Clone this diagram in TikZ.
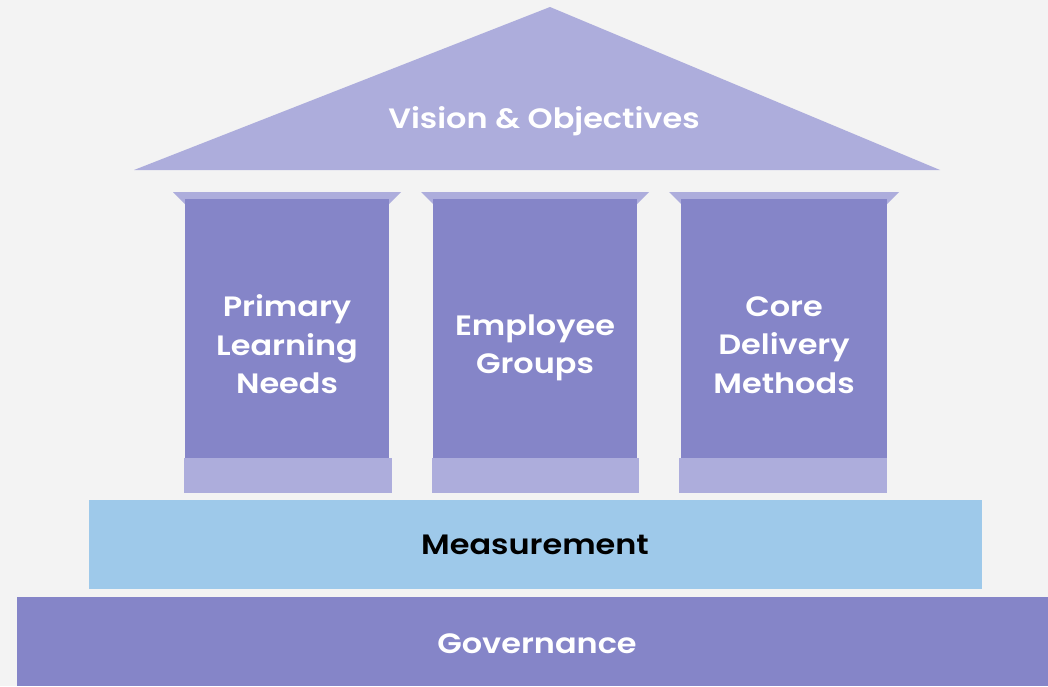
\documentclass[tikz,border=0pt]{standalone}
\usepackage{fontspec}
\setmainfont{Poppins}[BoldFont={Poppins SemiBold}]
\begin{document}
\begin{tikzpicture}[x=1pt,y=-1pt,
  roofc/.style={fill=roof,draw=none},
  shaftc/.style={fill=shaft,draw=none},
  lbl/.style={text=white,font=\fontsize{28}{38.5}\selectfont\bfseries\addfontfeature{FakeStretch=1.14},align=center},
  ]
\definecolor{bg}{HTML}{F3F3F3}
\definecolor{roof}{HTML}{ADADDC}
\definecolor{shaft}{HTML}{8585C8}
\definecolor{meas}{HTML}{9EC9EA}
% canvas
\fill[bg] (0,0) rectangle (1048,686);
\useasboundingbox (0,0) rectangle (1048,686);
% roof
\fill[roofc] (550,7) -- (940,170) -- (134,170) -- cycle;
\node[lbl] (roof) at (544,121) {Vision \& Objectives};
% pillars: capital, shaft, base
\foreach \cx/\sl/\sr/\bl/\br in {287/185/389/184/392, 535/433/637/432/639, 784/681/887/679/887}{
  \fill[roofc] (\sl-12,192) -- (\sr+12,192) -- (\sr,204) -- (\sl,204) -- cycle;
  \fill[shaftc] (\sl,199) rectangle (\sr,458);
  \fill[roofc] (\bl,458) rectangle (\br,493);
}
\node[lbl] (p1) at (287,344.5) {Primary\\Learning\\Needs};
\node[lbl] (p2) at (535,348) {Employee\\Groups};
\node[lbl] (p3) at (784,345) {Core\\Delivery\\Methods};
% measurement step
\fill[meas] (89,500) rectangle (982,589);
\node[lbl,text=black] (meas) at (535,545) {Measurement};
% governance foundation
\fill[shaft] (17,597) rectangle (1048,686);
\node[lbl] (gov) at (537,643.5) {Governance};
\end{tikzpicture}
\end{document}
